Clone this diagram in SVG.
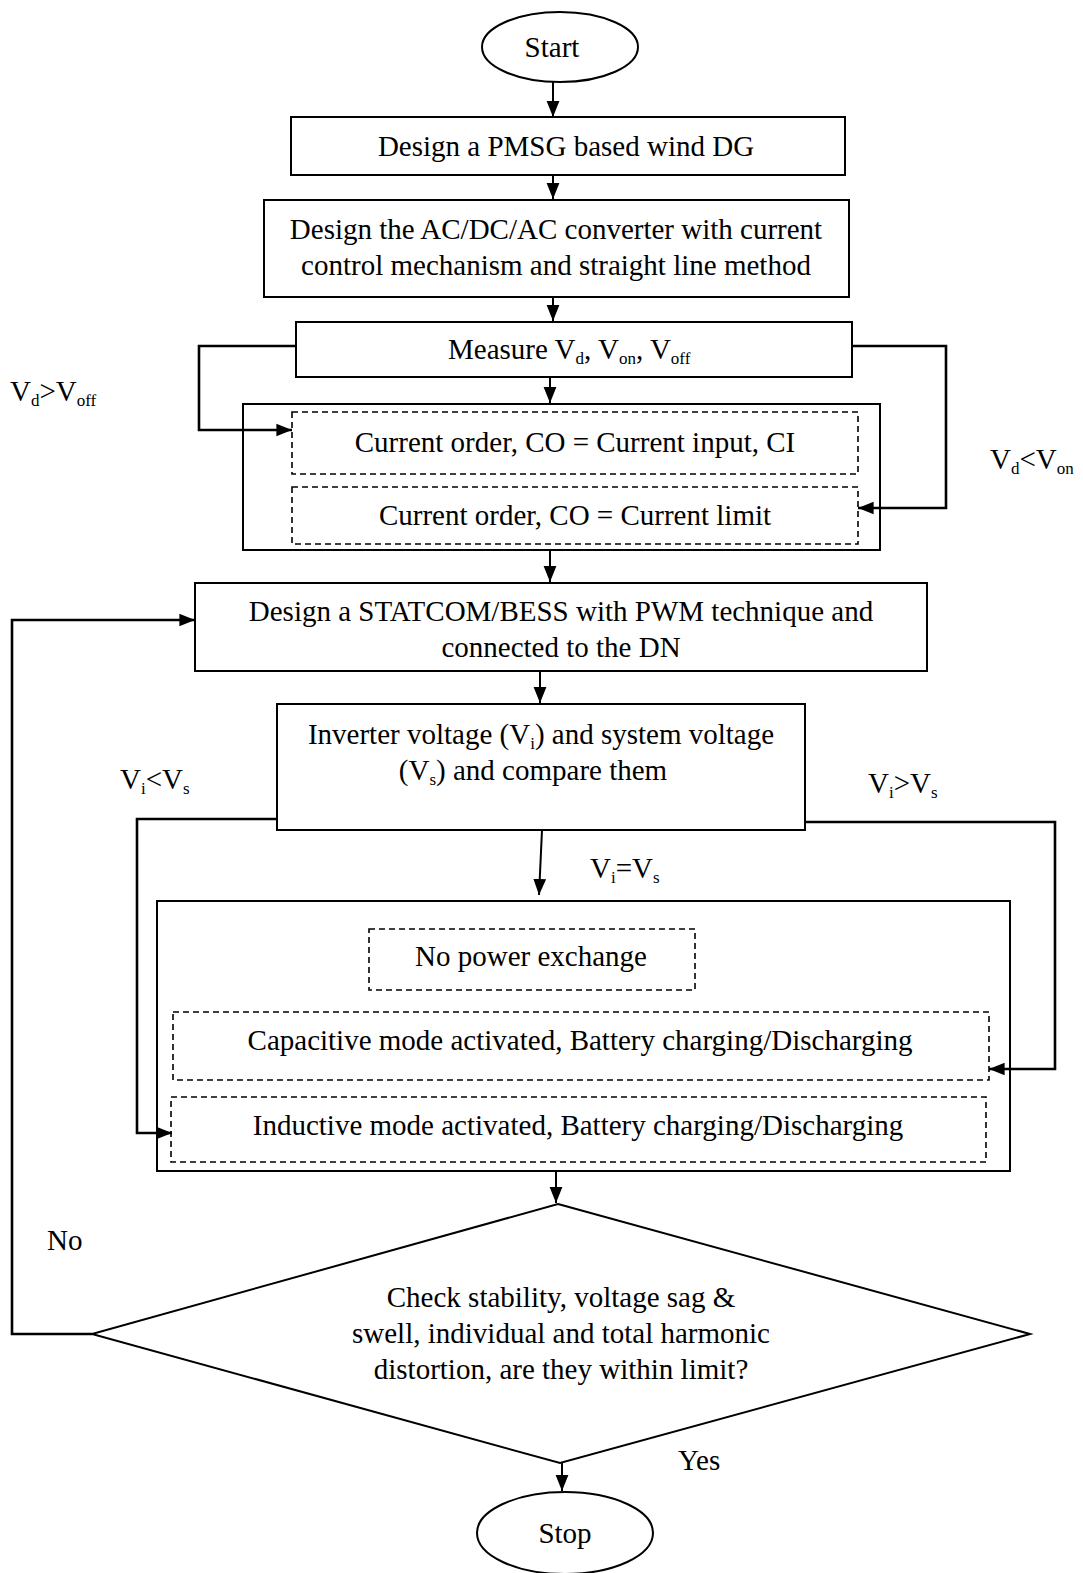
<svg xmlns="http://www.w3.org/2000/svg" width="1083" height="1573" viewBox="0 0 1083 1573">
<defs>
<marker id="ah" viewBox="0 0 10 10" refX="10" refY="5" markerWidth="8" markerHeight="8" markerUnits="strokeWidth" orient="auto">
<path d="M0,1 L10,5 L0,9 z" fill="#000"/>
</marker>
<marker id="ah2" viewBox="0 0 10 10" refX="10" refY="5" markerWidth="6" markerHeight="6" markerUnits="strokeWidth" orient="auto">
<path d="M0,1 L10,5 L0,9 z" fill="#000"/>
</marker>
</defs>
<style>
.b{fill:#fff;stroke:#000;stroke-width:2}
.o{fill:none;stroke:#000;stroke-width:2}
.d{fill:none;stroke:#000;stroke-width:1.6;stroke-dasharray:6,4}
.c{fill:none;stroke:#000;stroke-width:2;marker-end:url(#ah)}
.l{fill:none;stroke:#000;stroke-width:2.6;marker-end:url(#ah2)}
text{font-family:"Liberation Serif","Times New Roman",serif;font-size:29px;fill:#000}
.m{text-anchor:middle}
.s{font-size:17px}
</style>
<rect width="1083" height="1573" fill="#fff"/>
<g id="connectors">
<line class="c" x1="553" y1="82" x2="553" y2="117"/>
<line class="c" x1="553" y1="175" x2="553" y2="199"/>
<line class="c" x1="553" y1="297" x2="553" y2="321"/>
<line class="c" x1="550" y1="377" x2="550" y2="403"/>
<polyline class="l" points="296,346 199,346 199,430 292,430"/>
<polyline class="l" points="852,346 946,346 946,508 858,508"/>
<line class="c" x1="550" y1="550" x2="550" y2="582"/>
<line class="c" x1="540" y1="671" x2="540" y2="703"/>
<polyline class="l" points="277,819 137,819 137,1133 172,1133"/>
<polyline class="l" points="805,822 1055,822 1055,1069 989,1069"/>
<line class="c" x1="542" y1="830" x2="539" y2="895"/>
<line class="c" x1="556" y1="1171" x2="556" y2="1203"/>
<polyline class="l" points="92,1334 12,1334 12,620 195,620"/>
<line class="c" x1="562" y1="1463" x2="562" y2="1491"/>
</g>
<g id="start"><ellipse class="b" cx="560" cy="47" rx="78" ry="35"/><text class="m" x="552" y="57">Start</text></g>
<g id="pmsg"><rect class="b" x="291" y="117" width="554" height="58"/><text class="m" x="566" y="156">Design a PMSG based wind DG</text></g>
<g id="converter"><rect class="b" x="264" y="200" width="585" height="97"/>
<text class="m" x="556" y="239">Design the AC/DC/AC converter with current</text>
<text class="m" x="556" y="275">control mechanism and straight line method</text></g>
<g id="measure"><rect class="b" x="296" y="322" width="556" height="55"/>
<text x="448" y="359">Measure V<tspan class="s" dy="5">d</tspan><tspan dy="-5">, V</tspan><tspan class="s" dy="5">on</tspan><tspan dy="-5">, V</tspan><tspan class="s" dy="5">off</tspan></text></g>
<g id="current-order"><rect class="o" x="243" y="404" width="637" height="146"/>
<rect class="d" x="292" y="412" width="566" height="62"/>
<text class="m" x="575" y="452">Current order, CO = Current input, CI</text>
<rect class="d" x="292" y="487" width="566" height="57"/>
<text class="m" x="575" y="525">Current order, CO = Current limit</text></g>
<g id="lbl-voff"><text x="10" y="401">V<tspan class="s" dy="5">d</tspan><tspan dy="-5">&gt;V</tspan><tspan class="s" dy="5">off</tspan></text></g>
<g id="lbl-von"><text x="990" y="469">V<tspan class="s" dy="5">d</tspan><tspan dy="-5">&lt;V</tspan><tspan class="s" dy="5">on</tspan></text></g>
<g id="statcom"><rect class="b" x="195" y="583" width="732" height="88"/>
<text class="m" x="561" y="621">Design a STATCOM/BESS with PWM technique and</text>
<text class="m" x="561" y="657">connected to the DN</text></g>
<g id="inverter"><rect class="b" x="277" y="704" width="528" height="126"/>
<text class="m" x="541" y="744">Inverter voltage (V<tspan class="s" dy="5">i</tspan><tspan dy="-5">) and system voltage</tspan></text>
<text class="m" x="533" y="780">(V<tspan class="s" dy="5">s</tspan><tspan dy="-5">) and compare them</tspan></text></g>
<g id="lbl-vilt"><text x="120" y="789">V<tspan class="s" dy="5">i</tspan><tspan dy="-5">&lt;V</tspan><tspan class="s" dy="5">s</tspan></text></g>
<g id="lbl-vigt"><text x="868" y="793">V<tspan class="s" dy="5">i</tspan><tspan dy="-5">&gt;V</tspan><tspan class="s" dy="5">s</tspan></text></g>
<g id="lbl-vieq"><text x="590" y="878">V<tspan class="s" dy="5">i</tspan><tspan dy="-5">=V</tspan><tspan class="s" dy="5">s</tspan></text></g>
<g id="modes"><rect class="o" x="157" y="901" width="853" height="270"/>
<rect class="d" x="369" y="929" width="326" height="61"/>
<text class="m" x="531" y="966">No power exchange</text>
<rect class="d" x="173" y="1012" width="816" height="68"/>
<text class="m" x="580" y="1050">Capacitive mode activated, Battery charging/Discharging</text>
<rect class="d" x="171" y="1097" width="815" height="65"/>
<text class="m" x="578" y="1135">Inductive mode activated, Battery charging/Discharging</text></g>
<g id="check"><polygon class="b" points="558,1204 1030,1334 560,1463 92,1334"/>
<text class="m" x="561" y="1307">Check stability, voltage sag &amp;</text>
<text class="m" x="561" y="1343">swell, individual and total harmonic</text>
<text class="m" x="561" y="1379">distortion, are they within limit?</text></g>
<g id="lbl-no"><text x="47" y="1250">No</text></g>
<g id="lbl-yes"><text x="678" y="1470">Yes</text></g>
<g id="stop"><ellipse class="b" cx="565" cy="1533" rx="88" ry="41"/><text class="m" x="565" y="1543">Stop</text></g>
</svg>
